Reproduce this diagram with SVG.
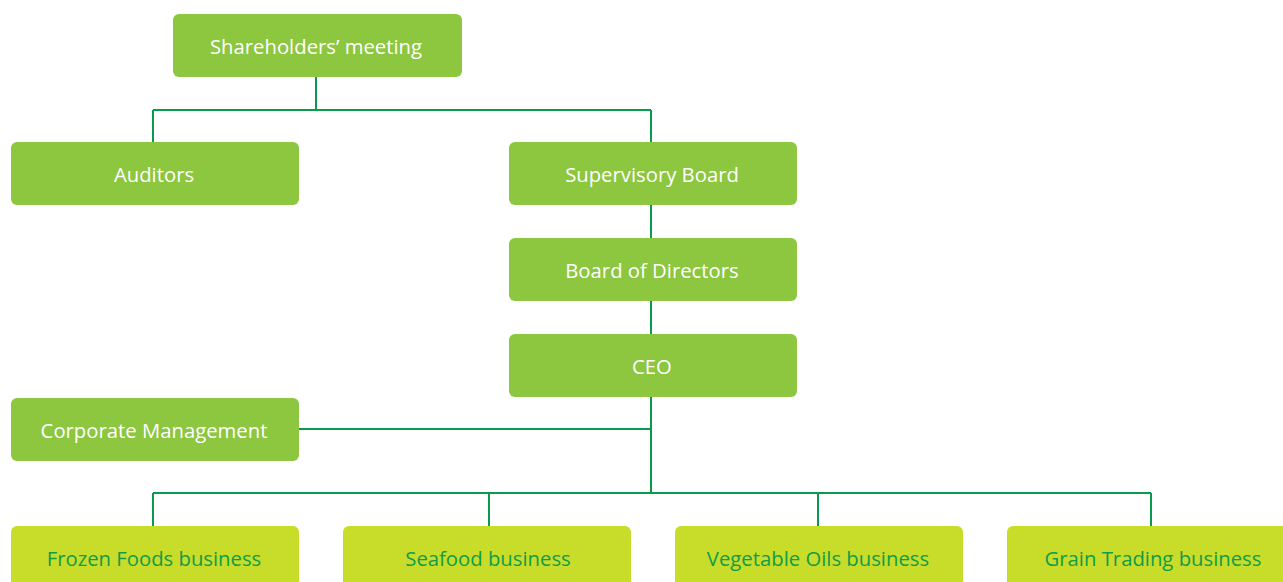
<svg xmlns="http://www.w3.org/2000/svg" width="1283" height="582" viewBox="0 0 1283 582">
  <style>
    .box { fill: #8dc63f; }
    .unit { fill: #c8dc2a; }
    .lbl { font-family: "Open Sans", "Liberation Sans", sans-serif; font-size: 20.3px; fill: #ffffff; text-anchor: middle; dominant-baseline: central; }
    .ulbl { fill: #0f9d48; }
    .wire { fill: none; stroke: #0a9a4c; stroke-width: 2; }
  </style>
  <rect width="1283" height="582" fill="#ffffff"/>

  <g id="connectors" class="wire">
    <path d="M316 77 V110 M153 110 H651 M153 110 V142 M651 110 V142"/>
    <path d="M651 205 V238 M651 301 V334"/>
    <path d="M651 397 V493 M299 429 H651"/>
    <path d="M153 493 H1151 M153 493 V526 M489 493 V526 M818 493 V526 M1151 493 V526"/>
  </g>

  <g id="shareholders"><rect class="box" x="173" y="14" width="289" height="63" rx="6"/><text class="lbl" x="316" y="46">Shareholders’ meeting</text></g>
  <g id="auditors"><rect class="box" x="11" y="142" width="288" height="63" rx="6"/><text class="lbl" x="154" y="174">Auditors</text></g>
  <g id="supervisory"><rect class="box" x="509" y="142" width="288" height="63" rx="6"/><text class="lbl" x="652" y="174">Supervisory Board</text></g>
  <g id="board"><rect class="box" x="509" y="238" width="288" height="63" rx="6"/><text class="lbl" x="652" y="270">Board of Directors</text></g>
  <g id="ceo"><rect class="box" x="509" y="334" width="288" height="63" rx="6"/><text class="lbl" x="652" y="366">CEO</text></g>
  <g id="corporate"><rect class="box" x="11" y="398" width="288" height="63" rx="6"/><text class="lbl" x="154" y="430">Corporate Management</text></g>

  <g id="frozen"><rect class="unit" x="11" y="526" width="288" height="70" rx="6"/><text class="lbl ulbl" x="154" y="558">Frozen Foods business</text></g>
  <g id="seafood"><rect class="unit" x="343" y="526" width="288" height="70" rx="6"/><text class="lbl ulbl" x="488" y="558">Seafood business</text></g>
  <g id="oils"><rect class="unit" x="675" y="526" width="288" height="70" rx="6"/><text class="lbl ulbl" x="818" y="558">Vegetable Oils business</text></g>
  <g id="grain"><rect class="unit" x="1007" y="526" width="288" height="70" rx="6"/><text class="lbl ulbl" x="1153" y="558">Grain Trading business</text></g>
</svg>
